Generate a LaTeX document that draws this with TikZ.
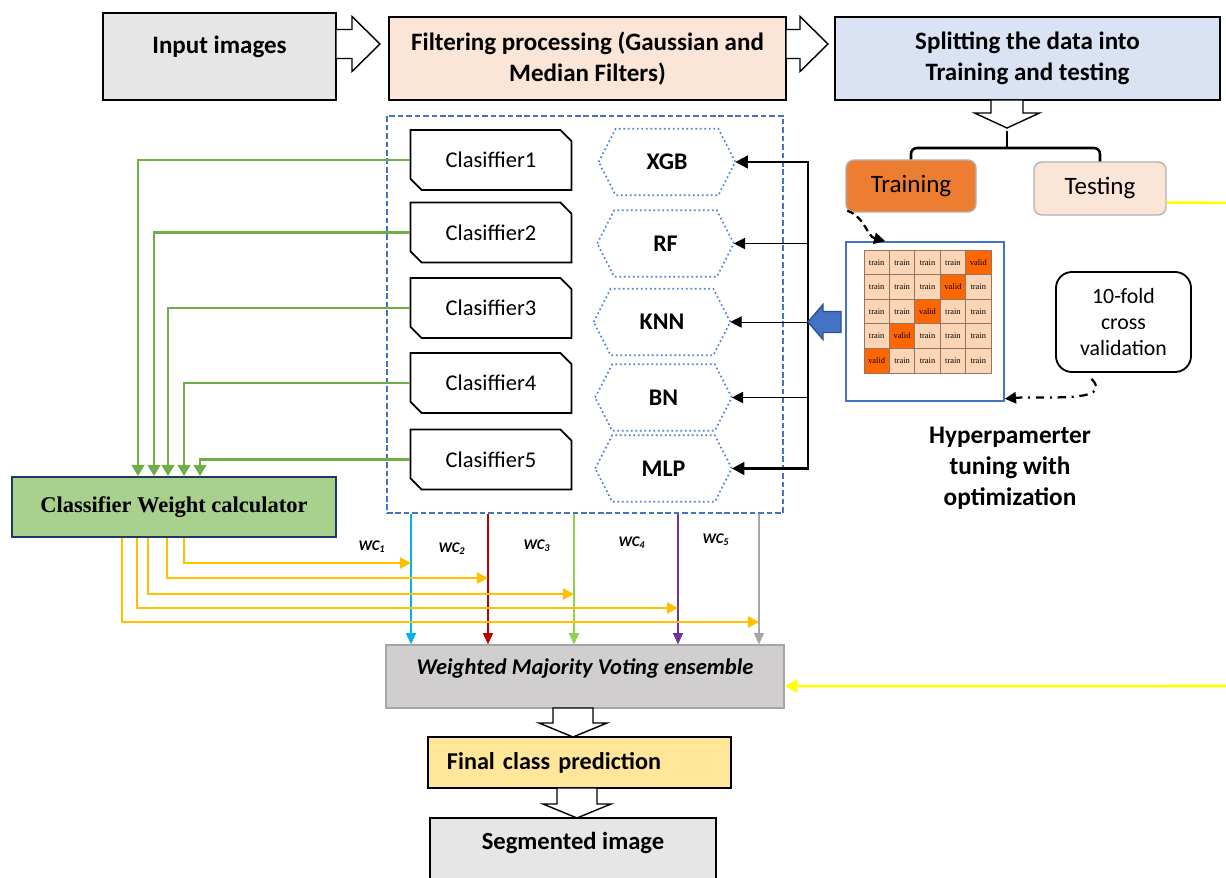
\documentclass[tikz,border=0pt]{standalone}
\usepackage{fontspec}
\setmainfont{Carlito}
\newfontfamily\serifbold{Liberation Serif}
\usetikzlibrary{shapes.misc,arrows.meta,positioning,calc}
\definecolor{boxgray}{RGB}{231,230,230}
\definecolor{filtpeach}{RGB}{251,229,214}
\definecolor{splitblue}{RGB}{218,227,243}
\definecolor{trainor}{RGB}{237,125,49}
\definecolor{frameblue}{RGB}{68,114,196}
\definecolor{hexblue}{RGB}{80,130,210}
\definecolor{arrnavy}{RGB}{47,82,143}
\definecolor{lgreen}{RGB}{112,173,71}
\definecolor{calcgreen}{RGB}{169,209,142}
\definecolor{calcnavy}{RGB}{31,56,100}
\definecolor{wyellow}{RGB}{255,192,0}
\definecolor{tyellow}{RGB}{255,255,0}
\definecolor{wcA}{RGB}{0,176,240}
\definecolor{wcB}{RGB}{192,0,0}
\definecolor{wcC}{RGB}{146,208,80}
\definecolor{wcD}{RGB}{112,48,160}
\definecolor{wcE}{RGB}{166,166,166}
\definecolor{wmvgray}{RGB}{208,206,206}
\definecolor{predyellow}{RGB}{255,230,153}
\definecolor{cellpeach}{RGB}{252,213,180}
\definecolor{validor}{RGB}{255,102,0}
\definecolor{cellline}{RGB}{140,120,100}
% hollow block arrow: tail x, tail y, angle, length, shaft half, head half, head length
\newcommand\blockarrow[8][barrow]{%
  \draw[#1,shift={(#2,#3)},rotate=#4] (0,-#6) -- ({#5-#8},-#6) -- ({#5-#8},-#7) -- (#5,0)
    -- ({#5-#8},#7) -- ({#5-#8},#6) -- (0,#6) -- cycle;}

\begin{document}
\begin{tikzpicture}[x=0.025cm,y=-0.025cm,
  every node/.style={font=\fontsize{15}{18}\selectfont},
  topbox/.style={draw,line width=1.3pt,align=center,inner sep=2pt,font=\fontsize{17.8}{22}\selectfont\bfseries},
  clf/.style={chamfered rectangle,chamfered rectangle corners={north east,south west},chamfered rectangle sep=0.14cm,draw,line width=1.3pt,minimum width=4.025cm,minimum height=1.5cm,inner sep=0pt,font=\fontsize{16}{18}\selectfont},
  hexa/.style={minimum width=3.4cm,minimum height=1.65cm,inner sep=0pt,font=\fontsize{17}{20}\selectfont\bfseries},
  hexline/.style={draw=hexblue,dotted,line width=1.2pt},
  barrow/.style={draw,fill=white,line width=1pt,line join=miter},
  cell/.style={draw=cellline,line width=0.6pt,minimum width=0.635cm,minimum height=0.615cm,inner sep=0pt,font=\serifbold\fontsize{6}{7}\selectfont},
  gline/.style={draw=lgreen,line width=2pt,-{Triangle[length=8pt,width=9pt]}},
  wline/.style={draw=wyellow,line width=1.6pt,-{Triangle[length=8pt,width=8pt]}},
  vline/.style={line width=1.3pt,-{Triangle[length=8pt,width=7pt]}},
  feed/.style={line width=0.7pt,-{Triangle[length=8pt,width=8pt]}}]
\useasboundingbox (0,0) rectangle (1226,878);

% top row
\node[topbox,fill=boxgray,minimum width=5.825cm,minimum height=2.175cm,text depth=0.6cm] (input) at (219.5,56.5) {Input images};
\node[topbox,fill=filtpeach,minimum width=9.925cm,minimum height=2.075cm] (filt) at (587.5,58.5) {Filtering processing (Gaussian and\\Median Filters)};
\node[topbox,fill=splitblue,minimum width=9.625cm,minimum height=2.075cm] (split) at (1027.5,58.5) {Splitting the data into\\Training and testing};
\blockarrow{336}{44}{0}{44}{14.5}{27.5}{28}
\blockarrow{786}{44}{0}{42}{14.5}{27.5}{28}
\blockarrow{1007}{100}{-90}{28}{16}{32.5}{15}

% training / testing
\node[draw=gray!60,line width=1pt,rounded corners=0.2cm,fill=trainor,minimum width=3.25cm,minimum height=1.3cm,font=\fontsize{17.8}{20}\selectfont] (train) at (911,186) {Training};
\node[draw=gray!60,line width=1pt,rounded corners=0.2cm,fill=filtpeach,minimum width=3.3cm,minimum height=1.325cm,font=\fontsize{17.8}{20}\selectfont] (test) at (1100,188.5) {Testing};
\coordinate (brk) at (1007,131);
\coordinate (bar) at (1007,148);
\draw[line width=1.8pt,rounded corners=0.15cm] (train.north) |- (bar) -| (test.north);
\draw[line width=1.8pt] (bar) -- (brk);

% classifier ensemble
\node[draw=frameblue,dash pattern=on 4pt off 2pt,line width=1pt,minimum width=9.9cm,minimum height=9.925cm] (ens) at (585,314.5) {};
\foreach \i/\y in {1/160,2/232.5,3/308,4/383,5/459.5}
  \node[clf] (clf\i) at (491,\y) {Clasiffier\i};
\foreach \n/\t/\x/\y in {xgb/XGB/667/162,rf/RF/665.5/243.5,knn/KNN/662/322,bn/BN/663.5/397.5,mlp/MLP/663.5/468.5}{
  \node[hexa] (\n) at (\x,\y) {\t};
  \draw[hexline] (\n.west) -- ([xshift=0.425cm]\n.north west) -- ([xshift=-0.425cm]\n.north east) -- (\n.east)
    -- ([xshift=-0.425cm]\n.south east) -- ([xshift=0.425cm]\n.south west) -- cycle;
}
\coordinate (bus) at (808,0);
\draw[line width=2pt,{Triangle[length=9pt,width=9pt]}-{Triangle[length=9pt,width=9pt]}] (xgb.east) -- (bus |- xgb.east) -- (bus |- mlp.east) -- (mlp.east);
\foreach \n in {rf,knn,bn}
  \draw[feed] (bus |- \n.east) -- (\n.east);
\blockarrow[barrow,draw=arrnavy,fill=frameblue]{841}{322}{180}{33}{10.5}{17.5}{15}

% tuning grid
\node[draw=frameblue,line width=1.1pt,minimum width=3.95cm,minimum height=3.975cm] (tune) at (925,321.5) {};
\foreach \r in {0,...,4}{
  \foreach \c in {0,...,4}{
    \pgfmathtruncatemacro\s{\r+\c}
    \ifnum\s=4
      \node[cell,fill=validor] (g\r\c) at ({876.7+25.4*\c},{262.3+24.6*\r}) {valid};
    \else
      \node[cell,fill=cellpeach] (g\r\c) at ({876.7+25.4*\c},{262.3+24.6*\r}) {train};
    \fi
  }
}
\node[draw,line width=1.3pt,rounded corners=0.4cm,minimum width=3.375cm,minimum height=2.5cm,align=center,font=\fontsize{15.5}{18.5}\selectfont] (cv) at (1123.5,322) {10-fold\\cross\\validation};
\node[align=center,font=\fontsize{18}{22}\selectfont\bfseries] (hyp) at (1010,468) {Hyperpamerter\\tuning with\\optimization};
\draw[line width=1.6pt,dash pattern=on 5pt off 3pt,-{Triangle[length=8pt,width=8pt]}] ([xshift=0.05cm,yshift=0.05cm]train.south west) to[out=-20,in=165] ([xshift=1.0cm]tune.north west);
\draw[line width=1.6pt,dash pattern=on 6pt off 4pt on 1.5pt off 4pt,-{Triangle[length=8pt,width=8pt]}] ([xshift=-0.8cm,yshift=-0.15cm]cv.south) to[out=-45,in=5] ([yshift=0.075cm]tune.south east);

% weights and voting
\node[draw=calcnavy,line width=1.3pt,fill=calcgreen,minimum width=8.1cm,minimum height=1.5cm,font=\serifbold\fontsize{16}{18}\selectfont\bfseries] (cwc) at (174,507) {Classifier Weight calculator};
\node[draw=gray!70,line width=0.8pt,fill=wmvgray,minimum width=9.95cm,minimum height=1.575cm,text depth=0.5cm,font=\fontsize{16}{18}\selectfont\bfseries\itshape] (wmv) at (585,676.5) {Weighted Majority Voting ensemble};
\foreach \i/\x in {1/138,2/154,3/168,4/184,5/200}{
  \coordinate (gx\i) at (\x,0);
  \draw[gline] (clf\i.west) -| (cwc.north -| gx\i);
}
\foreach \i/\x/\c in {1/411/wcA,2/488/wcB,3/574/wcC,4/678/wcD,5/759/wcE}{
  \coordinate (vx\i) at (\x,0);
  \draw[vline,color=\c] (ens.south -| vx\i) -- (wmv.north -| vx\i);
}
\foreach \i/\xs/\xe/\y in {1/184/411/563,2/167/488/578,3/148/574/594,4/137/678/608,5/122/759/622}{
  \coordinate (ws\i) at (\xs,0);
  \coordinate (hit\i) at (\xe,\y);
  \draw[wline] (cwc.south -| ws\i) |- (hit\i);
}
\foreach \i/\x/\y in {1/372/547,2/452/549,3/537/546,4/632/543,5/716/540}
  \node[font=\fontsize{10.5}{12}\selectfont\bfseries\itshape] (wc\i) at (\x,\y) {WC\textsubscript{\i}};
\coordinate (outr1) at (1245,203);
\coordinate (outr2) at (1245,686);
\draw[line width=1.8pt,tyellow,-{Triangle[length=9pt,width=9pt]}] ([yshift=-0.35cm]test.east) -- (outr1) -- (outr2) -- ([yshift=-0.24cm]wmv.east);

% output
\blockarrow{573}{708}{-90}{29}{20}{34}{14}
\node[draw,line width=1.3pt,fill=predyellow,minimum height=1.275cm,text width=6.625cm,inner xsep=0.475cm,align=left,font=\fontsize{17.2}{18}\selectfont\bfseries] (pred) at (579.5,762.5) {Final class prediction};
\blockarrow{577}{788}{-90}{30}{20}{34}{14}
\node[draw,line width=1.3pt,fill=boxgray,minimum width=7.15cm,minimum height=1.675cm,text depth=0.55cm,font=\fontsize{17.5}{18}\selectfont\bfseries] (seg) at (573,851.5) {Segmented image};
\end{tikzpicture}
\end{document}
